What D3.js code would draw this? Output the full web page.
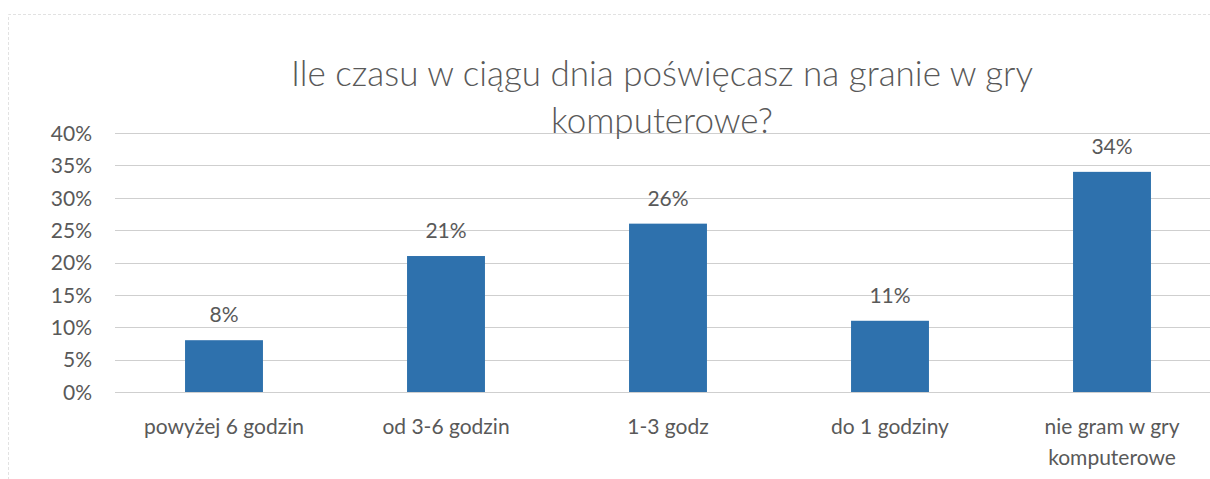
<!DOCTYPE html>
<html>
<head>
<meta charset="utf-8">
<script src="https://cdn.jsdelivr.net/npm/d3@7"></script>
<style>
  html, body { margin: 0; padding: 0; background: #fff; }
  svg { display: block; }
</style>
</head>
<body>
<svg id="chart" width="1210" height="479"></svg>
<script>
const titleLines = ["Ile czasu w ciągu dnia poświęcasz na granie w gry", "komputerowe?"];
const categories = ["powyżej 6 godzin", "od 3-6 godzin", "1-3 godz", "do 1 godziny", "nie gram w gry komputerowe"];
const categoryLines = [["powyżej 6 godzin"], ["od 3-6 godzin"], ["1-3 godz"], ["do 1 godziny"], ["nie gram w gry", "komputerowe"]];
const values = [0.08, 0.21, 0.26, 0.11, 0.34];
const valueLabels = ["8%", "21%", "26%", "11%", "34%"];
const yTicks = [0, 0.05, 0.10, 0.15, 0.20, 0.25, 0.30, 0.35, 0.40];

const svg = d3.select("#chart");
const textColor = "#595959";
const font = "Lato, 'Open Sans', sans-serif";

// faint frame of the scanned chart area
svg.append("path")
  .attr("d", "M8.5,480 L8.5,14.5 L1215,14.5")
  .attr("fill", "none").attr("stroke", "#e2e2e2").attr("stroke-width", 1)
  .attr("stroke-dasharray", "3,2");

const x = d3.scaleBand().domain(categories).range([113, 1223])
  .paddingInner(0.649).paddingOuter(0.3245);
const y = d3.scaleLinear().domain([0, 0.40]).range([392, 133]);

// gridlines
svg.append("g").selectAll("line").data(yTicks).join("line")
  .attr("x1", 115).attr("x2", 1210)
  .attr("y1", d => Math.round(y(d)) + 0.5).attr("y2", d => Math.round(y(d)) + 0.5)
  .attr("stroke", "#cfcfcf").attr("stroke-width", 1);

// y axis labels
const yAxis = d3.axisLeft(y).tickValues(yTicks).tickFormat(d3.format(".0%")).tickSize(0).tickPadding(0);
const yg = svg.append("g").attr("transform", "translate(92,0)").call(yAxis);
yg.select(".domain").remove();
yg.selectAll("text").attr("fill", textColor).attr("font-family", font).attr("font-size", 21).attr("dy", "0.35em");

// bars
svg.append("g").selectAll("rect").data(values).join("rect")
  .attr("x", (d, i) => x(categories[i]))
  .attr("width", x.bandwidth())
  .attr("y", d => y(d))
  .attr("height", d => y(0) - y(d))
  .attr("fill", "#2e71ad");

// value labels
svg.append("g").selectAll("text").data(values).join("text")
  .attr("x", (d, i) => x(categories[i]) + x.bandwidth() / 2)
  .attr("y", d => y(d) - 18)
  .attr("text-anchor", "middle")
  .attr("fill", textColor).attr("font-family", font).attr("font-size", 21)
  .text((d, i) => valueLabels[i]);

// category labels
const cg = svg.append("g").selectAll("text").data(categoryLines).join("text")
  .attr("x", (d, i) => x(categories[i]) + x.bandwidth() / 2)
  .attr("y", 434)
  .attr("text-anchor", "middle")
  .attr("fill", textColor).attr("font-family", font).attr("font-size", 21);
cg.selectAll("tspan").data((d, i) => d.map(s => ({ s, i }))).join("tspan")
  .attr("x", d => x(categories[d.i]) + x.bandwidth() / 2)
  .attr("dy", (d, j) => j === 0 ? 0 : 31)
  .text(d => d.s);

// title
svg.append("g").selectAll("text").data(titleLines).join("text")
  .attr("x", 662)
  .attr("y", (d, i) => 86 + i * 47)
  .attr("text-anchor", "middle")
  .attr("fill", textColor).attr("font-family", font).attr("font-weight", 300)
  .attr("font-size", 35)
  .text(d => d);
</script>
</body>
</html>
